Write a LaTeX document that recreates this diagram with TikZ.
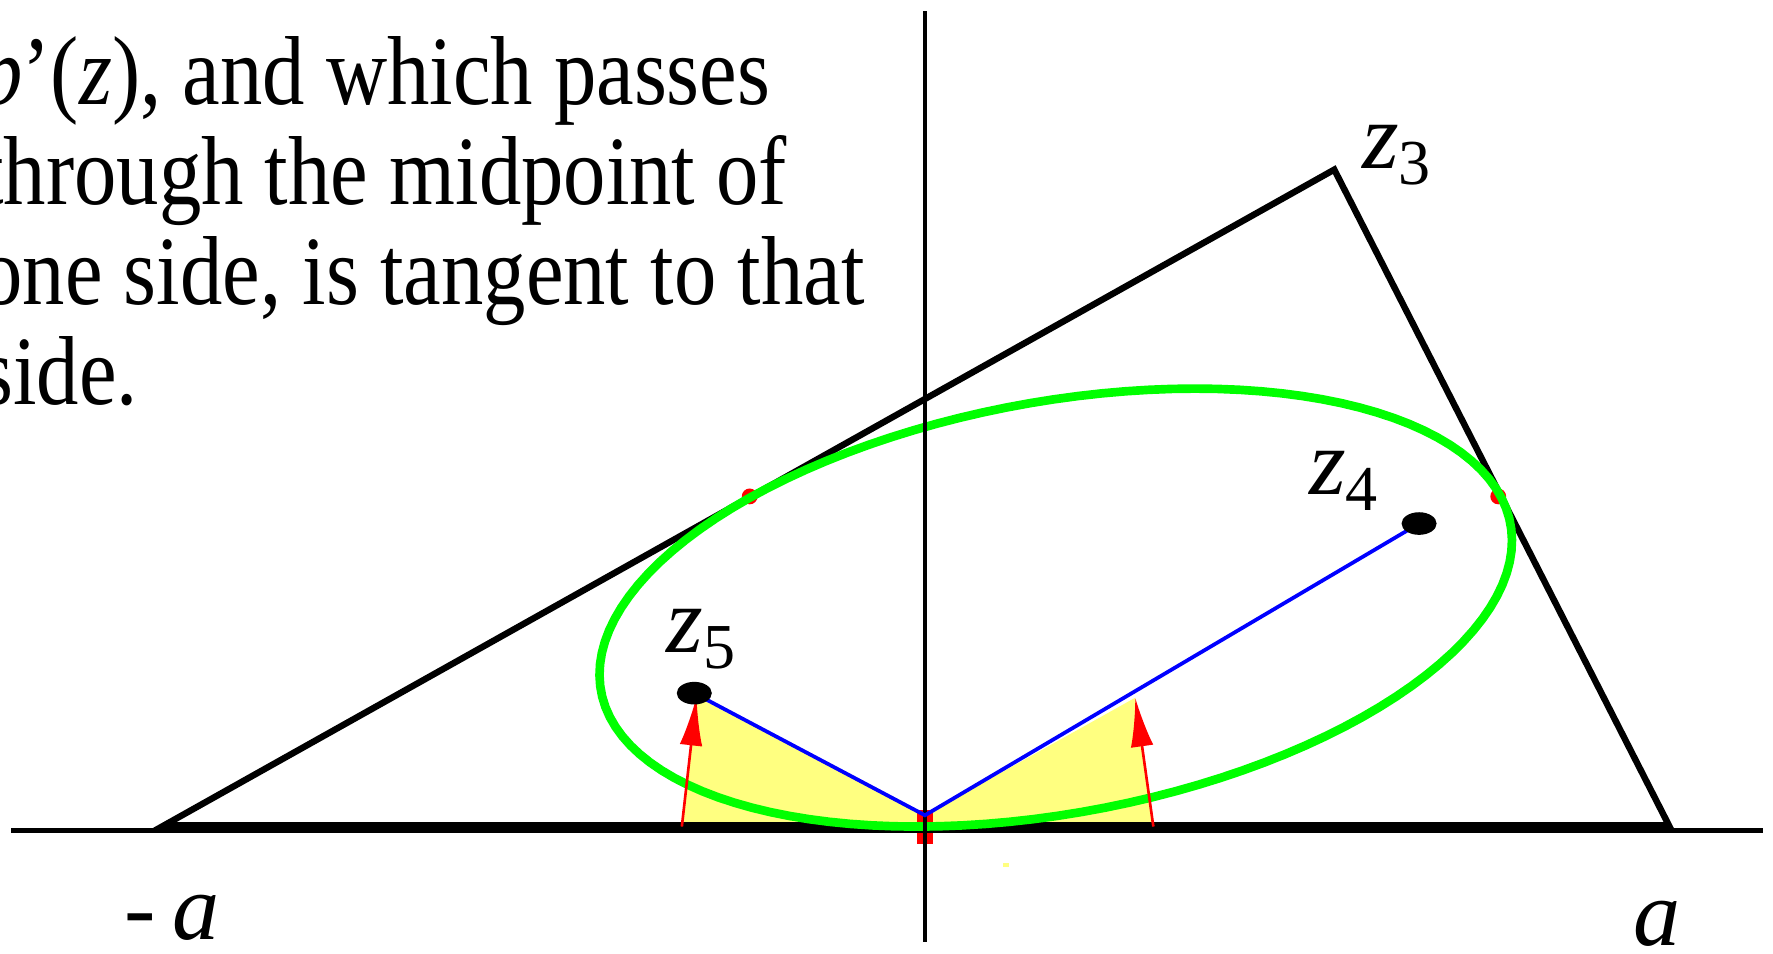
\documentclass[tikz,border=0pt]{standalone}
\usepackage{fontspec}
\setmainfont{Liberation Serif}
\usetikzlibrary{arrows.meta}
\definecolor{grn}{RGB}{0,255,0}
\definecolor{blu}{RGB}{0,0,255}
\definecolor{rd}{RGB}{255,0,0}
\definecolor{ylw}{RGB}{255,255,128}
\begin{document}
\begin{tikzpicture}[x=0.3pt, y=-0.3pt,
  bodytext/.style={anchor=base west, inner sep=0pt, font=\fontsize{26}{26}\selectfont},
  lbl/.style={anchor=base west, inner sep=0pt, font=\fontsize{25}{25}\selectfont},
  axisline/.style={line width=1.2pt, black},
  triside/.style={line width=1.7pt, black, line join=miter},
  ellipseline/.style={grn, line width=2.3pt},
  focusline/.style={blu, line width=1pt},
  redarrow/.style={rd, line width=0.7pt, -{Latex[length=13pt,width=6pt]}},
  focusdot/.style={fill=black}]
\useasboundingbox (0,0) rectangle (1568,843);
\clip (0,0) rectangle (1568,843);
% key points
\coordinate (A) at (145,730);
\coordinate (B) at (1180,150);
\coordinate (C) at (1476,730);
\coordinate (O) at (818,721);
\coordinate (Z4) at (1255,463);
\coordinate (Z5) at (614,613);
\coordinate (LB) at (603,731);
\coordinate (LT) at (616,616);
\coordinate (RB) at (1020,731);
\coordinate (RT) at (1004,617);
\coordinate (hL) at (10,734.5);
\coordinate (hR) at (1559,734.5);
\coordinate (vT) at (818,10);
\coordinate (vB) at (818,833);
\coordinate (mAB) at (663,439);
\coordinate (mBC) at (1325,439);
% yellow area
\fill[ylw] (LB) -- (LT) -- (O) -- (RT) -- (RB) -- cycle;
\fill[ylw] (887,763) rectangle (892,767);
% red marks at midpoints
\fill[rd] (811,716) rectangle (825,746);
\fill[rd] (mAB) circle (7);
\fill[rd] (mBC) circle (7);
% horizontal axis and triangle
\draw[axisline] (hL) -- (hR);
\draw[triside] (A) -- (B) -- (C) -- cycle;
% Steiner inellipse
\draw[ellipseline] plot[domain=0:360, samples=121]
  ({933.667+271.167*cos(\x)-298.78*sin(\x)}, {537.333+96.833*cos(\x)+167.72*sin(\x)});
% vertical axis
\draw[axisline] (vT) -- (vB);
% red arrows
\draw[redarrow] (LB) -- (LT);
\draw[redarrow] (RB) -- (RT);
% blue lines to foci
\draw[focusline] (Z5) -- (O) -- (Z4);
\fill[focusdot] (Z4) ellipse [x radius=15.5, y radius=10];
\fill[focusdot] (Z5) ellipse [x radius=15.5, y radius=10];
% text
\node[bodytext] (t1) at (-18,92) {\scalebox{0.864}[1]{\textit{p}’(\textit{z}), and which passes}};
\node[bodytext] (t2) at (-18,180.5) {\scalebox{0.864}[1]{through the midpoint of}};
\node[bodytext] (t3) at (-18,269) {\scalebox{0.864}[1]{one side, is tangent to that}};
\node[bodytext] (t4) at (-18,357.5) {\scalebox{0.864}[1]{side.}};
% labels
\node[lbl] (lz3) at (1204,149) {\textit{z}\raisebox{-4.3pt}{\fontsize{17}{17}\selectfont 3}};
\node[lbl] (lz4) at (1157,437) {\textit{z}\raisebox{-4.3pt}{\fontsize{17}{17}\selectfont 4}};
\node[lbl] (lz5) at (589,577) {\textit{z}\raisebox{-4.3pt}{\fontsize{17}{17}\selectfont 5}};
\node[lbl] (lma) at (109,831) {-\hspace{4.5pt}\textit{a}};
\node[lbl] (lpa) at (1444,836) {\textit{a}};
\end{tikzpicture}
\end{document}
